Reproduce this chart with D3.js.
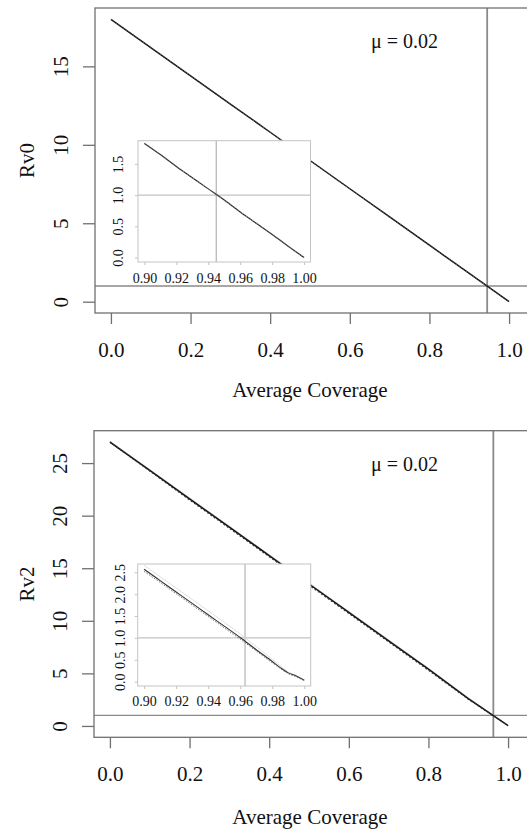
<!DOCTYPE html>
<html><head><meta charset="utf-8">
<script src="https://cdn.jsdelivr.net/npm/d3@7"></script>
<style>
html,body{margin:0;padding:0;background:#fff;overflow:hidden;}
svg{display:block;}
text{font-family:"Liberation Serif","Times New Roman",serif;fill:#111;}
</style></head>
<body>
<script>
// ---------- data ----------
const coverage = [0,0.1,0.2,0.3,0.4,0.5,0.6,0.7,0.8,0.9,1.0];
const rv0Solid = [18.0,16.2,14.4,12.6,10.8,9.0,7.2,5.4,3.6,1.8,0.0];
const rv0Dotted = [18.0,16.2,14.4,12.6,10.8,9.0,7.2,5.4,3.6,1.8,0.0];
const rv2Solid = [27.0,24.3,21.6,18.9,16.2,13.5,10.8,8.1,5.4,2.6,0.03];
const rv2Dotted = [27.0,24.25,21.5,18.8,16.1,13.4,10.7,8.0,5.3,2.55,0.03];
const rv2Light = [27.1,24.4,21.7,19.0,16.3,13.6,10.9,8.2,5.5,2.7,0.03];

const insetCoverage0 = [0.90,0.91,0.92,0.93,0.94,0.95,0.96,0.97,0.98,0.99,1.00];
const rv0InsetSolid = [1.83,1.65,1.46,1.28,1.10,0.92,0.73,0.55,0.37,0.18,0.0];
const rv0InsetDotted = [1.83,1.65,1.46,1.28,1.10,0.92,0.73,0.55,0.37,0.18,0.0];

const insetCoverage2 = [0.90,0.91,0.92,0.93,0.94,0.95,0.96,0.97,0.98,0.985,0.99,0.995,1.00];
const rv2InsetSolid = [2.57,2.31,2.05,1.79,1.53,1.27,1.01,0.73,0.46,0.32,0.20,0.13,0.03];
const rv2InsetDotted = [2.52,2.27,2.01,1.75,1.49,1.23,0.97,0.70,0.43,0.30,0.18,0.11,0.02];
const rv2InsetLight = [2.66,2.40,2.14,1.88,1.62,1.36,1.09,0.80,0.51,0.36,0.22,0.14,0.04];

const xTicks = [0,0.2,0.4,0.6,0.8,1.0];
const xTickLabels = ["0.0","0.2","0.4","0.6","0.8","1.0"];
const rv0Ticks = [0,5,10,15];
const rv2Ticks = [0,5,10,15,20,25];
const insetXTicks = [0.90,0.92,0.94,0.96,0.98,1.00];
const inset0YTicks = [0,0.5,1.0,1.5];
const inset2YTicks = [0,0.5,1.0,1.5,2.0,2.5];
const threshold = 1;
const critCov0 = 0.945;
const critCov2 = 0.963;
const muLabel = "\u03bc = 0.02";
const xTitle = "Average Coverage";

// ---------- drawing ----------
const W = 527, H = 833;
const svg = d3.select("body").append("svg").attr("width", W).attr("height", H);

const frameCol = "#707070", ablineCol = "#8a8a8a";
const insetFrameCol = "#c4c4c4", insetAblineCol = "#b4b4b4";
const FS = "21px", IFS = "14px";

function panel(cfg) {
  const g = svg.append("g");
  const x = d3.scaleLinear().domain([-0.04, 1.04]).range([cfg.left, cfg.left + 430]);
  const y = d3.scaleLinear().domain(cfg.yDomain).range([cfg.bottom, cfg.top]);
  g.append("line").attr("x1", cfg.left).attr("x2", cfg.left + 440)
    .attr("y1", y(threshold)).attr("y2", y(threshold))
    .attr("stroke", ablineCol).attr("stroke-width", 1.3);
  g.append("line").attr("x1", x(cfg.crit)).attr("x2", x(cfg.crit))
    .attr("y1", cfg.top).attr("y2", cfg.bottom)
    .attr("stroke", ablineCol).attr("stroke-width", 1.8);
  g.append("rect").attr("x", cfg.left).attr("y", cfg.top)
    .attr("width", 445).attr("height", cfg.bottom - cfg.top)
    .attr("fill", "none").attr("stroke", frameCol).attr("stroke-width", 1.3);
  const xa = g.append("g").attr("transform", `translate(0,${cfg.bottom})`)
    .call(d3.axisBottom(x).tickValues(xTicks).tickSize(11).tickPadding(0)
      .tickFormat((d, i) => xTickLabels[i]));
  xa.select(".domain").remove();
  xa.selectAll(".tick line").attr("stroke", frameCol).attr("stroke-width", 1.3);
  xa.selectAll(".tick text").attr("dy", null).attr("y", cfg.xLabelBase - cfg.bottom)
    .style("font-size", FS).attr("fill", "#111");
  const ya = g.append("g").attr("transform", `translate(${cfg.left},0)`)
    .call(d3.axisLeft(y).tickValues(cfg.yTicks).tickSize(12).tickFormat(d3.format("d")));
  ya.select(".domain").remove();
  ya.selectAll(".tick line").attr("stroke", frameCol).attr("stroke-width", 1.3);
  ya.selectAll(".tick text").attr("dy", null).attr("text-anchor", "middle")
    .attr("transform", "rotate(-90)").attr("x", 0).attr("y", -27)
    .style("font-size", FS).attr("fill", "#111");
  g.append("text").attr("x", 310).attr("y", cfg.xTitleBase).attr("text-anchor", "middle")
    .style("font-size", FS).text(xTitle);
  g.append("text").attr("transform", `translate(34,${(cfg.top + cfg.bottom) / 2}) rotate(-90)`)
    .attr("text-anchor", "middle").style("font-size", FS).text(cfg.yTitle);
  g.append("text").attr("x", 371).attr("y", cfg.muBase).style("font-size", "20px").text(muLabel);
  const line = d3.line().x((d, i) => x(coverage[i])).y(d => y(d));
  cfg.series.forEach(s => {
    g.append("path").attr("d", line(s.v)).attr("fill", "none")
      .attr("stroke", s.c).attr("stroke-width", s.w)
      .attr("stroke-dasharray", s.dash || null);
  });
  // inset
  const ins = cfg.inset;
  const ix = d3.scaleLinear().domain([0.896, 1.004]).range([ins.left, ins.right]);
  const iy = d3.scaleLinear().domain(ins.yDomain).range([ins.bottom, ins.top]);
  const ig = svg.append("g");
  ig.append("rect").attr("x", ins.left).attr("y", ins.top).attr("width", ins.right - ins.left)
    .attr("height", ins.bottom - ins.top).attr("fill", "#fff");
  ig.append("line").attr("x1", ins.left).attr("x2", ins.right).attr("y1", iy(threshold)).attr("y2", iy(threshold))
    .attr("stroke", insetAblineCol).attr("stroke-width", 1);
  ig.append("line").attr("x1", ix(cfg.crit)).attr("x2", ix(cfg.crit)).attr("y1", ins.top).attr("y2", ins.bottom)
    .attr("stroke", insetAblineCol).attr("stroke-width", 1.2);
  ig.append("rect").attr("x", ins.left).attr("y", ins.top).attr("width", ins.right - ins.left)
    .attr("height", ins.bottom - ins.top).attr("fill", "none").attr("stroke", insetFrameCol).attr("stroke-width", 1);
  const ixa = ig.append("g").attr("transform", `translate(0,${ins.bottom})`)
    .call(d3.axisBottom(ix).tickValues(insetXTicks).tickSize(3).tickFormat(d3.format(".2f")));
  ixa.select(".domain").remove();
  ixa.selectAll(".tick line").attr("stroke", insetFrameCol);
  ixa.selectAll(".tick text").attr("dy", null).attr("y", ins.xLabelBase - ins.bottom)
    .style("font-size", IFS).attr("fill", "#111");
  const iya = ig.append("g").attr("transform", `translate(${ins.left},0)`)
    .call(d3.axisLeft(iy).tickValues(ins.yTicks).tickSize(3).tickFormat(d3.format(".1f")));
  iya.select(".domain").remove();
  iya.selectAll(".tick line").attr("stroke", insetFrameCol);
  iya.selectAll(".tick text").attr("dy", null).attr("text-anchor", "middle")
    .attr("transform", "rotate(-90)").attr("x", 0).attr("y", -ins.yLabelOff)
    .style("font-size", IFS).attr("fill", "#111");
  const il = d3.line().curve(d3.curveMonotoneX).x((d, i) => ix(ins.xs[i])).y(d => iy(d));
  ins.series.forEach(s => {
    ig.append("path").attr("d", il(s.v)).attr("fill", "none")
      .attr("stroke", s.c).attr("stroke-width", s.w)
      .attr("stroke-dasharray", s.dash || null);
  });
}

panel({
  left: 95, top: 8, bottom: 313, yDomain: [-0.72, 18.72], yTicks: rv0Ticks,
  crit: critCov0, yTitle: "Rv0", xLabelBase: 357, xTitleBase: 397, muBase: 48,
  series: [
    {v: rv0Solid, c: "#111", w: 1.5},
    {v: rv0Dotted, c: "#555", w: 1, dash: "1.5,1.5"}
  ],
  inset: {
    left: 138, right: 310.5, top: 140.7, bottom: 262, yDomain: [-0.072, 1.872],
    yTicks: inset0YTicks, xLabelBase: 283, yLabelOff: 15, xs: insetCoverage0,
    series: [
      {v: rv0InsetSolid, c: "#222", w: 1.2},
      {v: rv0InsetDotted, c: "#888", w: 1, dash: "1,1.5"}
    ]
  }
});

panel({
  left: 94, top: 430.7, bottom: 737.3, yDomain: [-1.08, 28.08], yTicks: rv2Ticks,
  crit: critCov2, yTitle: "Rv2", xLabelBase: 781, xTitleBase: 824, muBase: 471,
  series: [
    {v: rv2Light, c: "#d8d8d8", w: 1},
    {v: rv2Solid, c: "#111", w: 1.5},
    {v: rv2Dotted, c: "#333", w: 1.2, dash: "2,2"}
  ],
  inset: {
    left: 137.7, right: 310.7, top: 564, bottom: 686, yDomain: [-0.1, 2.69],
    yTicks: inset2YTicks, xLabelBase: 706, yLabelOff: 13, xs: insetCoverage2,
    series: [
      {v: rv2InsetLight, c: "#e0e0e0", w: 1},
      {v: rv2InsetSolid, c: "#333", w: 1.1},
      {v: rv2InsetDotted, c: "#777", w: 1, dash: "1.5,1.5"}
    ]
  }
});
</script>
</body></html>
